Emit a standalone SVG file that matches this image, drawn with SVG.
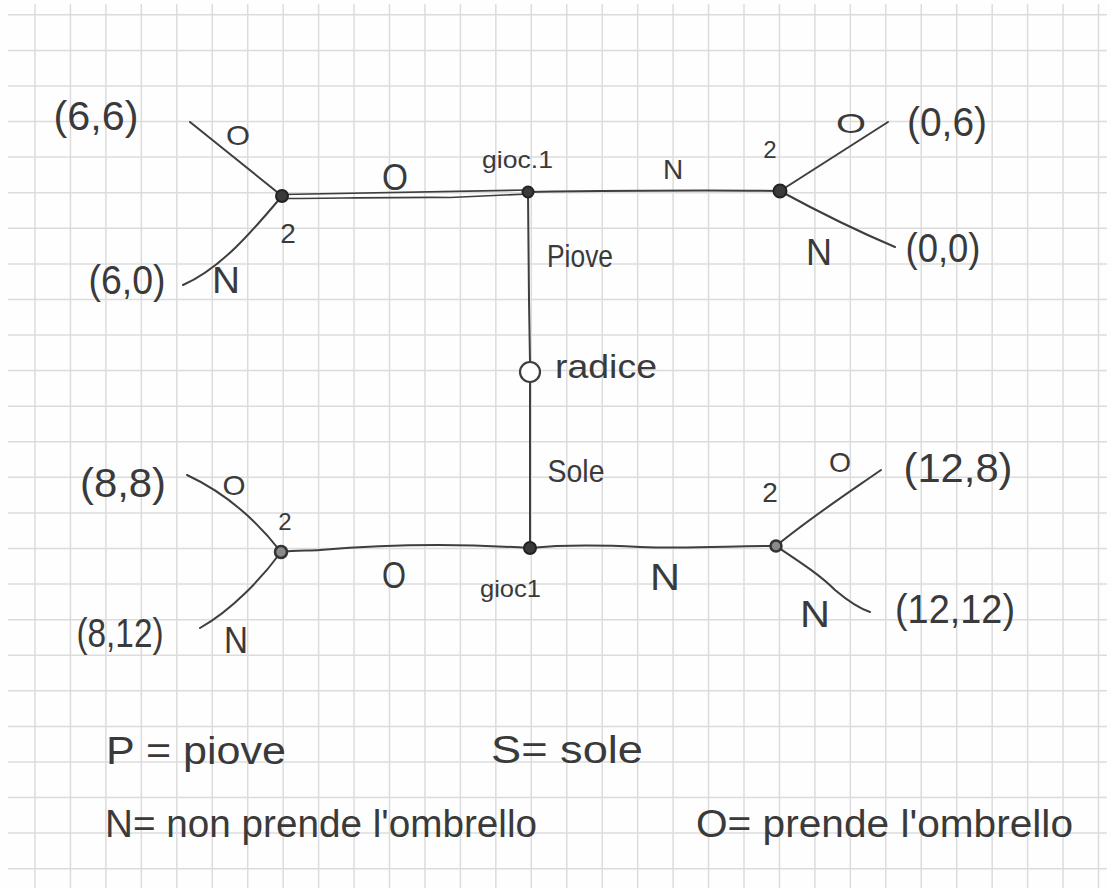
<svg xmlns="http://www.w3.org/2000/svg" width="1107" height="888" viewBox="0 0 1107 888">
  <style>
    .grid line { stroke: #dcdcdc; stroke-width: 1.5; }
    .ink { fill: none; stroke: #3e3e3e; stroke-width: 2; stroke-linecap: round; stroke-linejoin: round; }
    .hand { font-family: "Liberation Sans", Arial, sans-serif; fill: #3a3a3a; }
    .pay { font-size: 40px; }
    .lab { font-size: 36px; }
    .sm { font-size: 24px; }
    .mid { font-size: 28px; }
    .dot { fill: #3a3a3a; stroke: #222; stroke-width: 2; }
    .ring { fill: #8a8a8a; stroke: #333; stroke-width: 2.5; }
    .root { fill: #fff; stroke: #3e3e3e; stroke-width: 2.2; }
  </style>

  <rect width="1107" height="888" fill="#fefefe"/>

  <!-- squared paper -->
  <g class="grid" id="grid">
    <line x1="35" y1="4" x2="35" y2="888"/>
    <line x1="70.45" y1="4" x2="70.45" y2="888"/>
    <line x1="105.9" y1="4" x2="105.9" y2="888"/>
    <line x1="141.35" y1="4" x2="141.35" y2="888"/>
    <line x1="176.8" y1="4" x2="176.8" y2="888"/>
    <line x1="212.25" y1="4" x2="212.25" y2="888"/>
    <line x1="247.7" y1="4" x2="247.7" y2="888"/>
    <line x1="283.15" y1="4" x2="283.15" y2="888"/>
    <line x1="318.6" y1="4" x2="318.6" y2="888"/>
    <line x1="354.05" y1="4" x2="354.05" y2="888"/>
    <line x1="389.5" y1="4" x2="389.5" y2="888"/>
    <line x1="424.95" y1="4" x2="424.95" y2="888"/>
    <line x1="460.4" y1="4" x2="460.4" y2="888"/>
    <line x1="495.85" y1="4" x2="495.85" y2="888"/>
    <line x1="531.3" y1="4" x2="531.3" y2="888"/>
    <line x1="566.75" y1="4" x2="566.75" y2="888"/>
    <line x1="602.2" y1="4" x2="602.2" y2="888"/>
    <line x1="637.65" y1="4" x2="637.65" y2="888"/>
    <line x1="673.1" y1="4" x2="673.1" y2="888"/>
    <line x1="708.55" y1="4" x2="708.55" y2="888"/>
    <line x1="744" y1="4" x2="744" y2="888"/>
    <line x1="779.45" y1="4" x2="779.45" y2="888"/>
    <line x1="814.9" y1="4" x2="814.9" y2="888"/>
    <line x1="850.35" y1="4" x2="850.35" y2="888"/>
    <line x1="885.8" y1="4" x2="885.8" y2="888"/>
    <line x1="921.25" y1="4" x2="921.25" y2="888"/>
    <line x1="956.7" y1="4" x2="956.7" y2="888"/>
    <line x1="992.15" y1="4" x2="992.15" y2="888"/>
    <line x1="1027.6" y1="4" x2="1027.6" y2="888"/>
    <line x1="1063.05" y1="4" x2="1063.05" y2="888"/>
    <line x1="1098.5" y1="4" x2="1098.5" y2="888"/>

    <line x1="8" y1="14.8" x2="1107" y2="14.8"/>
    <line x1="8" y1="50.4" x2="1107" y2="50.4"/>
    <line x1="8" y1="85.9" x2="1107" y2="85.9"/>
    <line x1="8" y1="121.5" x2="1107" y2="121.5"/>
    <line x1="8" y1="157.1" x2="1107" y2="157.1"/>
    <line x1="8" y1="192.7" x2="1107" y2="192.7"/>
    <line x1="8" y1="228.3" x2="1107" y2="228.3"/>
    <line x1="8" y1="263.9" x2="1107" y2="263.9"/>
    <line x1="8" y1="299.4" x2="1107" y2="299.4"/>
    <line x1="8" y1="335" x2="1107" y2="335"/>
    <line x1="8" y1="370.6" x2="1107" y2="370.6"/>
    <line x1="8" y1="406.2" x2="1107" y2="406.2"/>
    <line x1="8" y1="441.8" x2="1107" y2="441.8"/>
    <line x1="8" y1="477.3" x2="1107" y2="477.3"/>
    <line x1="8" y1="512.9" x2="1107" y2="512.9"/>
    <line x1="8" y1="548.5" x2="1107" y2="548.5"/>
    <line x1="8" y1="584.1" x2="1107" y2="584.1"/>
    <line x1="8" y1="619.7" x2="1107" y2="619.7"/>
    <line x1="8" y1="655.2" x2="1107" y2="655.2"/>
    <line x1="8" y1="690.8" x2="1107" y2="690.8"/>
    <line x1="8" y1="726.4" x2="1107" y2="726.4"/>
    <line x1="8" y1="762" x2="1107" y2="762"/>
    <line x1="8" y1="797.6" x2="1107" y2="797.6"/>
    <line x1="8" y1="833.1" x2="1107" y2="833.1"/>
    <line x1="8" y1="868.7" x2="1107" y2="868.7"/>
  </g>

  <!-- branches of the game tree -->
  <g id="connectors" class="ink">
    <!-- chance move: root up (piove) and down (sole) -->
    <path d="M528,192 L529,300 L530,362"/>
    <path d="M530,382 L530,470 L530,548"/>
    <!-- player 1 after rain: O (double stroke) and N -->
    <path d="M282,194.5 C350,193 430,192 528,190" stroke-width="1.6"/>
    <path d="M282,198.5 C350,198 420,197 450,197.5 C480,196 505,195 528,194" stroke-width="1.6"/>
    <path d="M528,192 C600,191 700,190 780,191"/>
    <!-- player 2 after rain, O -->
    <path d="M190,122 L282,196"/>
    <path d="M282,196 C255,228 222,268 183,285"/>
    <!-- player 2 after rain, N -->
    <path d="M780,191 L888,122"/>
    <path d="M780,191 C815,210 850,228 895,247"/>
    <!-- player 1 after sun -->
    <path d="M281,552 C295,550 310,551 320,550 C380,545 450,543 530,548"/>
    <path d="M530,548 C560,545 600,545 640,547 C690,549 730,546 776,546"/>
    <!-- player 2 after sun, O -->
    <path d="M187,475 C215,488 250,512 281,552"/>
    <path d="M281,552 C262,578 232,610 200,628"/>
    <!-- player 2 after sun, N -->
    <path d="M776,546 C810,518 845,495 881,470"/>
    <path d="M776,546 C800,562 820,575 835,590 C848,601 858,608 870,612"/>
  </g>

  <!-- labels on the branches -->
  <g id="branch-labels" class="hand">
    <text class="lab" x="395" y="190" text-anchor="middle" textLength="26" lengthAdjust="spacingAndGlyphs">O</text>
    <text class="mid" x="673" y="179" text-anchor="middle">N</text>
    <text x="580" y="267" text-anchor="middle" font-size="32" textLength="66" lengthAdjust="spacingAndGlyphs">Piove</text>
    <text x="576" y="482" text-anchor="middle" font-size="32" textLength="57" lengthAdjust="spacingAndGlyphs">Sole</text>
    <text class="lab" x="394" y="588" text-anchor="middle" textLength="24" lengthAdjust="spacingAndGlyphs">O</text>
    <text class="lab" x="665" y="590" text-anchor="middle" textLength="30" lengthAdjust="spacingAndGlyphs">N</text>
    <text class="mid" x="238" y="145" text-anchor="middle" textLength="24" lengthAdjust="spacingAndGlyphs">O</text>
    <text class="lab" x="226" y="293" text-anchor="middle" textLength="28" lengthAdjust="spacingAndGlyphs">N</text>
    <text class="mid" x="851" y="133" text-anchor="middle" textLength="30" lengthAdjust="spacingAndGlyphs">O</text>
    <text class="lab" x="819" y="265" text-anchor="middle" textLength="26" lengthAdjust="spacingAndGlyphs">N</text>
    <text class="mid" x="234" y="495" text-anchor="middle" textLength="23" lengthAdjust="spacingAndGlyphs">O</text>
    <text class="lab" x="236" y="653" text-anchor="middle" textLength="24" lengthAdjust="spacingAndGlyphs">N</text>
    <text class="mid" x="840" y="472" text-anchor="middle" textLength="22" lengthAdjust="spacingAndGlyphs">O</text>
    <text class="lab" x="815" y="627" text-anchor="middle" textLength="30" lengthAdjust="spacingAndGlyphs">N</text>
  </g>

  <!-- root (chance node) -->
  <g id="node-root">
    <circle class="root" cx="530" cy="372" r="10"/>
    <text class="hand" x="555" y="378" font-size="34" textLength="102" lengthAdjust="spacingAndGlyphs">radice</text>
  </g>

  <!-- player 1 decision nodes -->
  <g id="node-p1-rain">
    <circle class="dot" cx="528" cy="192" r="5.5"/>
    <text class="hand" x="482" y="168" font-size="24" textLength="71" lengthAdjust="spacingAndGlyphs">gioc.1</text>
  </g>
  <g id="node-p1-sun">
    <circle class="dot" cx="530" cy="548" r="6"/>
    <text class="hand" x="480" y="597" font-size="24" textLength="61" lengthAdjust="spacingAndGlyphs">gioc1</text>
  </g>

  <!-- player 2 decision nodes -->
  <g id="node-p2-rain-o">
    <circle class="dot" cx="282" cy="196" r="6"/>
    <text class="hand mid" x="288" y="243" text-anchor="middle">2</text>
  </g>
  <g id="node-p2-rain-n">
    <circle class="dot" cx="780" cy="191" r="6.5"/>
    <text class="hand sm" x="770" y="158" text-anchor="middle">2</text>
  </g>
  <g id="node-p2-sun-o">
    <circle class="ring" cx="281" cy="552" r="6"/>
    <text class="hand sm" x="285" y="530" text-anchor="middle">2</text>
  </g>
  <g id="node-p2-sun-n">
    <circle class="ring" cx="776" cy="546" r="5.5"/>
    <text class="hand mid" x="770" y="502" text-anchor="middle">2</text>
  </g>

  <!-- payoffs -->
  <g id="payoff-rain-o-o"><text class="hand pay" x="96" y="130" text-anchor="middle" textLength="85" lengthAdjust="spacingAndGlyphs">(6,6)</text></g>
  <g id="payoff-rain-o-n"><text class="hand pay" x="127" y="294" text-anchor="middle" textLength="77" lengthAdjust="spacingAndGlyphs">(6,0)</text></g>
  <g id="payoff-rain-n-o"><text class="hand pay" x="947" y="136" text-anchor="middle" textLength="80" lengthAdjust="spacingAndGlyphs">(0,6)</text></g>
  <g id="payoff-rain-n-n"><text class="hand pay" x="943" y="262" text-anchor="middle" textLength="75" lengthAdjust="spacingAndGlyphs">(0,0)</text></g>
  <g id="payoff-sun-o-o"><text class="hand pay" x="123" y="497" text-anchor="middle" textLength="86" lengthAdjust="spacingAndGlyphs">(8,8)</text></g>
  <g id="payoff-sun-o-n"><text class="hand pay" x="120" y="647" text-anchor="middle" textLength="87" lengthAdjust="spacingAndGlyphs">(8,12)</text></g>
  <g id="payoff-sun-n-o"><text class="hand pay" x="958" y="482" text-anchor="middle" textLength="109" lengthAdjust="spacingAndGlyphs">(12,8)</text></g>
  <g id="payoff-sun-n-n"><text class="hand pay" x="955" y="623" text-anchor="middle" textLength="120" lengthAdjust="spacingAndGlyphs">(12,12)</text></g>

  <!-- legend -->
  <g id="legend" class="hand" font-size="38">
    <text x="106" y="764" textLength="180" lengthAdjust="spacingAndGlyphs">P = piove</text>
    <text x="491" y="763" textLength="152" lengthAdjust="spacingAndGlyphs">S= sole</text>
    <text x="105" y="837" textLength="432" lengthAdjust="spacingAndGlyphs">N= non prende l'ombrello</text>
    <text x="696" y="837" textLength="377" lengthAdjust="spacingAndGlyphs">O= prende l'ombrello</text>
  </g>
</svg>
